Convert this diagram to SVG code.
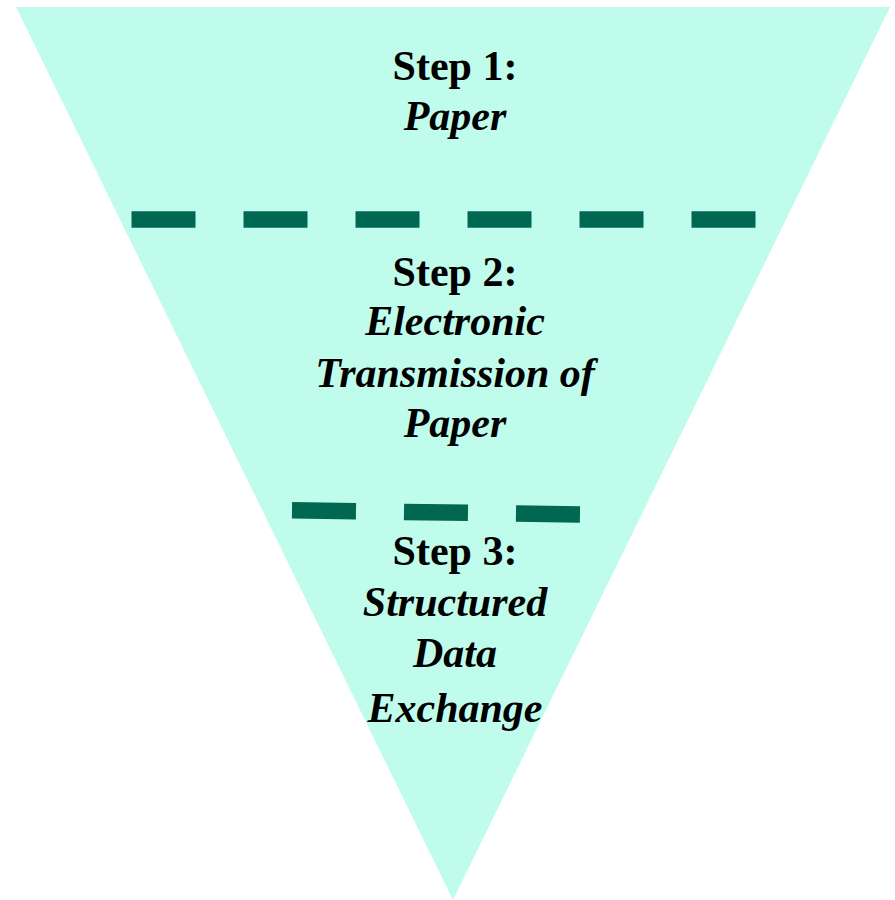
<svg xmlns="http://www.w3.org/2000/svg" width="895" height="900" viewBox="0 0 895 900">
  <style>
    .funnel { fill: #c0fcec; stroke: none; }
    .divider { fill: none; stroke: #006750; stroke-width: 16.5; stroke-dasharray: 64 48; }
    .label { font-family: "Liberation Serif", "Times New Roman", serif; font-size: 42px; font-weight: bold; fill: #000; text-anchor: middle; }
    .label .name { font-style: italic; }
  </style>

  <!-- inverted triangle (funnel) -->
  <polygon id="funnel" class="funnel" points="16,7 890,7 453,900"/>

  <!-- dashed dividers between the stages -->
  <g id="dividers">
    <line class="divider" x1="131.5" y1="219.5" x2="756" y2="219.5"/>
    <line class="divider" x1="292" y1="510.3" x2="580" y2="514.5"/>
  </g>

  <g id="step1">
    <text class="label" x="455" y="80">Step 1:</text>
    <text class="label" x="455" y="130"><tspan class="name">Paper</tspan></text>
  </g>

  <g id="step2">
    <text class="label" x="455" y="286">Step 2:</text>
    <text class="label" x="455" y="335"><tspan class="name">Electronic</tspan></text>
    <text class="label" x="455" y="387"><tspan class="name">Transmission of</tspan></text>
    <text class="label" x="455" y="437"><tspan class="name">Paper</tspan></text>
  </g>

  <g id="step3">
    <text class="label" x="455" y="565">Step 3:</text>
    <text class="label" x="455" y="616"><tspan class="name">Structured</tspan></text>
    <text class="label" x="455" y="667"><tspan class="name">Data</tspan></text>
    <text class="label" x="455" y="722"><tspan class="name">Exchange</tspan></text>
  </g>
</svg>
